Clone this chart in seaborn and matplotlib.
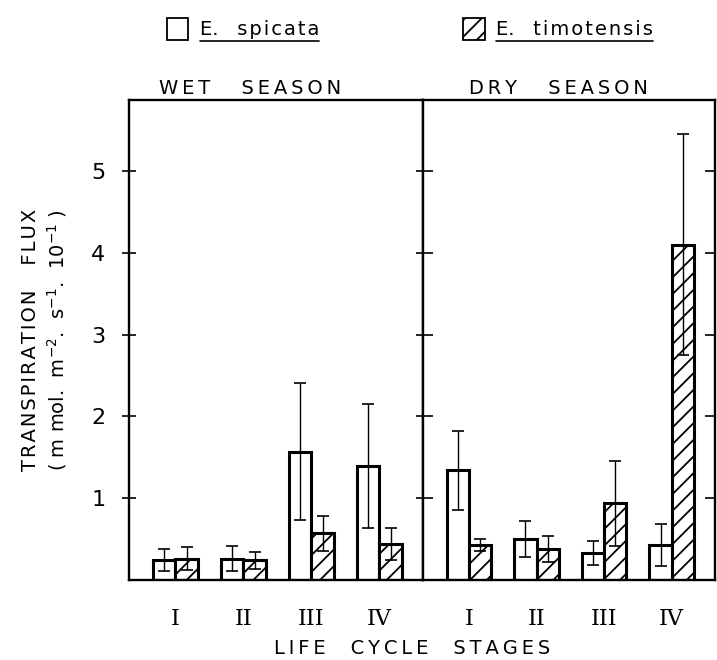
import matplotlib
matplotlib.use("Agg")
import matplotlib.pyplot as plt
from matplotlib.patches import Patch
from matplotlib.lines import Line2D
import pandas as pd
import seaborn as sns

STAGES = ["I", "II", "III", "IV"]
SPECIES = ["E. spicata", "E. timotensis"]

# wet season
SPICATA_WET = [0.24, 0.26, 1.57, 1.39]
SPICATA_WET_ERR = [0.135, 0.15, 0.84, 0.76]
TIMO_WET = [0.26, 0.24, 0.57, 0.44]
TIMO_WET_ERR = [0.14, 0.10, 0.21, 0.19]
# dry season
SPICATA_DRY = [1.34, 0.50, 0.33, 0.43]
SPICATA_DRY_ERR = [0.48, 0.22, 0.145, 0.26]
TIMO_DRY = [0.43, 0.38, 0.94, 4.10]
TIMO_DRY_ERR = [0.07, 0.155, 0.52, 1.35]

YTICKS = [1, 2, 3, 4, 5]

sns.set_theme(style="ticks")
plt.rcParams["font.family"] = ["DejaVu Sans"]
plt.rcParams["text.color"] = "black"
plt.rcParams["xtick.color"] = "black"
plt.rcParams["ytick.color"] = "black"
plt.rcParams["axes.labelcolor"] = "black"
plt.rcParams["hatch.linewidth"] = 1.3

THIN = "\u2009"
HAIR = "\u200a"


def spaced(s, sp=THIN):
    # loose letter spacing like the stencil lettering on the original
    return sp.join(s)


def season_df(spi, spi_err, tim, tim_err):
    rows = []
    for st, v, e in zip(STAGES, spi, spi_err):
        rows.append({"stage": st, "species": SPECIES[0], "flux": v, "err": e})
    for st, v, e in zip(STAGES, tim, tim_err):
        rows.append({"stage": st, "species": SPECIES[1], "flux": v, "err": e})
    return pd.DataFrame(rows)


frames = [
    season_df(SPICATA_WET, SPICATA_WET_ERR, TIMO_WET, TIMO_WET_ERR),
    season_df(SPICATA_DRY, SPICATA_DRY_ERR, TIMO_DRY, TIMO_DRY_ERR),
]

fig = plt.figure(figsize=(7.17, 6.6), dpi=100)
bottom, height = 80 / 660, 480 / 660
ax_w = fig.add_axes([129 / 717, bottom, 294 / 717, height])
ax_d = fig.add_axes([423 / 717, bottom, 292 / 717, height], sharey=ax_w)

for ax, df in zip([ax_w, ax_d], frames):
    sns.barplot(data=df, x="stage", y="flux", hue="species", order=STAGES,
                hue_order=SPECIES, palette=["white", "white"],
                edgecolor="black", linewidth=2.2, width=0.66, gap=0,
                errorbar=None, legend=False, ax=ax)
    for bar in ax.containers[1]:
        bar.set_hatch("//")
    for cont, sp in zip(ax.containers, SPECIES):
        sub = df[df["species"] == sp]
        xs = [b.get_x() + b.get_width() / 2 for b in cont]
        ax.errorbar(xs, sub["flux"], yerr=sub["err"], fmt="none",
                    ecolor="black", elinewidth=1.0, capsize=4,
                    capthick=1.2, zorder=5)
    ax.set_xlim(-0.68, 3.64)
    ax.set_ylim(0, 5.87)
    ax.set_xlabel("")
    ax.set_ylabel("")
    for s in ax.spines.values():
        s.set_linewidth(1.7)
        s.set_color("black")
    ax.tick_params(axis="x", length=0, pad=20, labelsize=16)
    for lab in ax.get_xticklabels():
        lab.set_family("DejaVu Serif")
    ax.set_yticks(YTICKS)

ax_w.tick_params(axis="y", direction="inout", length=10, width=1.2,
                 left=True, right=True, labelleft=True, labelsize=16, pad=12)
ax_d.tick_params(axis="y", direction="in", length=7, width=1.2,
                 left=True, right=True, labelleft=False)
ax_w.set_yticklabels([str(t) for t in YTICKS])

ax_w.set_ylabel(spaced("TRANSPIRATION", HAIR) + "    " + spaced("FLUX", HAIR) + "\n"
                "( m mol.  m$^{-2}$.  s$^{-1}$.  10$^{-1}$ )",
                fontsize=14, labelpad=16, linespacing=1.25)

# season headings, slightly left of panel centres as in the original
fig.text(250 / 717, 1 - 88 / 660, spaced("WET") + "     " + spaced("SEASON"),
         ha="center", va="center", fontsize=14)
fig.text(558 / 717, 1 - 88 / 660, spaced("DRY") + "     " + spaced("SEASON"),
         ha="center", va="center", fontsize=14)

fig.text(412 / 717, 1 - 649 / 660,
         spaced("LIFE") + "    " + spaced("CYCLE") + "    " + spaced("STAGES"),
         ha="center", va="center", fontsize=14)

handles = [Patch(facecolor="white", edgecolor="black", linewidth=1.3),
           Patch(facecolor="white", edgecolor="black", linewidth=1.3, hatch="//")]
labels = ["E.   " + spaced("spicata", HAIR), "E.   " + spaced("timotensis", HAIR)]
leg = fig.legend(handles, labels, loc="center", ncol=2,
                 bbox_to_anchor=(410 / 717, 1 - 29 / 660), frameon=False,
                 fontsize=14, handlelength=1.1, handleheight=1.4,
                 handletextpad=0.6, columnspacing=7.4)

fig.canvas.draw()
renderer = fig.canvas.get_renderer()
inv = fig.transFigure.inverted()
for t in leg.get_texts():
    bb = t.get_window_extent(renderer)
    (x0, y0), (x1, y1) = inv.transform([[bb.x0, bb.y0], [bb.x1, bb.y1]])
    fig.add_artist(Line2D([x0, x1], [y0 - 0.002, y0 - 0.002],
                          transform=fig.transFigure, color="black", lw=1.2))

fig.savefig("out.png", dpi=100)
